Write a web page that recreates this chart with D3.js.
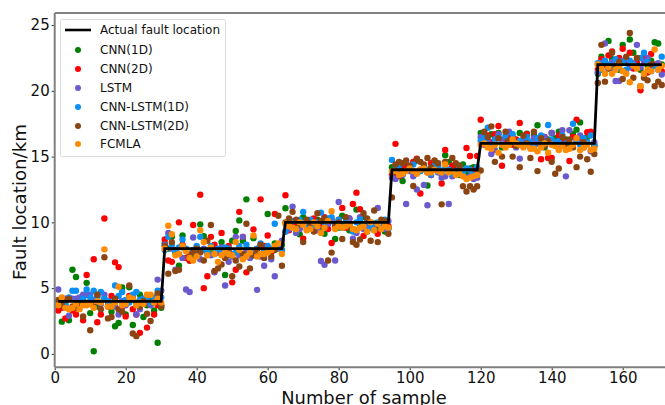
<!DOCTYPE html>
<html><head><meta charset="utf-8">
<script src="https://cdn.jsdelivr.net/npm/d3@7/dist/d3.min.js"></script>
<style>html,body{margin:0;padding:0;background:#fff}svg{display:block;font-family:"DejaVu Sans",sans-serif}</style>
</head><body><div id="chart"></div>
<script>
const xTicks=[0,20,40,60,80,100,120,140,160];
const yTicks=[0,5,10,15,20,25];
const actualLabel="Actual fault location";
const actual=[
4,4,4,4,4,4,4,4,4,4,4,4,4,4,4,4,4,4,4,4,4,4,4,4,4,4,4,4,4,4,
8,8,8,8,8,8,8,8,8,8,8,8,8,8,8,8,8,8,8,8,8,8,8,8,8,8,8,8,8,8,8,8,8,8,
10,10,10,10,10,10,10,10,10,10,10,10,10,10,10,10,10,10,10,10,10,10,10,10,10,10,10,10,10,10,
14,14,14,14,14,14,14,14,14,14,14,14,14,14,14,14,14,14,14,14,14,14,14,14,14,
16,16,16,16,16,16,16,16,16,16,16,16,16,16,16,16,16,16,16,16,16,16,16,16,16,16,16,16,16,16,16,16,16,
22,22,22,22,22,22,22,22,22,22,22,22,22,22,22,22,22,22,22];
const cnn1d=[3.6,2.45,3.8,2.55,6.4,5.85,3.7,3.9,5.4,3.1,
0.2,3.6,3.9,4.2,4.0,3.2,2.1,2.35,5.05,3.0,
5.06,2.2,3.9,4.5,2.8,3.7,4.2,3.3,0.85,3.5,
8.4,8.0,8.9,7.7,6.7,9.0,7.9,7.1,7.3,7.9,
9.85,8.95,7.7,8.0,7.6,7.8,8.5,6.0,7.5,8.6,
9.35,10.15,8.6,11.75,7.4,8.8,7.7,8.2,8.0,10.64,
7.9,8.4,8.3,8.3,11.07,9.5,9.8,9.9,9.1,10.4,
9.7,10.0,9.4,10.2,9.6,9.14,9.9,10.2,8.73,9.6,
10.5,9.8,9.4,9.5,10.97,9.7,10.4,9.3,9.6,9.9,
9.5,9.8,9.3,9.6,14.2,13.5,14.3,13.15,14.4,14.1,
14.5,14.7,13.9,14.2,12.8,13.6,14.0,14.3,13.7,15.1,
14.6,13.9,14.2,13.6,14.4,13.7,14.1,14.2,13.7,16.8,
16.5,15.9,16.7,16.6,16.8,15.7,16.3,16.0,16.4,15.9,
16.8,16.2,16.75,15.8,16.6,17.38,16.1,15.7,16.3,16.8,
16.4,16.9,16.0,16.3,15.8,16.7,17.05,17.6,16.2,16.5,
16.7,15.9,21.3,22.6,22.0,23.8,22.4,21.9,21.6,23.5,
22.2,23.9,22.9,22.1,21.6,22.5,21.9,22.3,23.7,23.6,22.0];
const cnn2d=[3.3,3.5,2.7,4.2,3.3,3.0,3.8,2.55,6.0,3.9,
7.2,2.4,3.0,10.3,3.6,4.4,6.96,6.6,3.6,2.85,
4.4,3.4,3.0,1.6,4.0,2.0,3.8,3.0,3.7,3.7,
8.7,7.1,7.0,7.9,10.0,8.3,7.3,7.1,9.8,8.1,
12.1,5.0,5.9,8.9,8.3,7.7,9.2,7.4,8.2,5.44,
6.4,10.8,8.9,6.2,7.8,9.47,8.0,11.75,8.2,9.0,
7.7,10.64,8.1,7.9,12.06,9.4,9.9,10.0,9.6,8.76,
9.8,10.1,10.3,9.6,9.9,10.4,9.5,8.43,9.7,10.2,
11.1,9.6,10.3,11.4,12.26,11.0,8.97,10.2,9.8,9.6,
9.14,9.9,10.0,9.7,13.6,15.97,13.5,14.1,14.4,13.9,
14.6,14.85,12.2,14.2,13.8,14.5,14.67,14.1,12.95,15.5,
14.0,14.3,13.7,14.2,13.8,15.66,15.05,14.0,15.05,17.8,
16.3,16.6,16.1,16.7,17.33,14.3,16.0,16.5,15.9,16.3,
17.56,16.2,16.7,15.8,16.4,16.0,14.8,16.5,14.9,14.9,
16.1,16.6,16.3,15.9,14.67,16.5,17.8,16.2,16.0,16.85,
16.9,15.8,21.6,22.4,22.0,22.7,23.0,21.8,22.5,23.2,
22.3,22.9,21.7,22.3,20.05,22.6,21.4,22.8,22.0,21.7,21.5];
const lstm=[4.9,3.7,4.2,2.9,4.2,4.2,4.3,4.5,4.5,4.5,
4.1,4.4,3.8,4.5,4.0,3.7,3.6,3.0,4.0,3.7,
4.1,4.3,3.0,3.4,4.2,4.0,3.7,4.0,5.65,4.8,
8.3,9.2,8.0,6.4,7.6,7.3,4.9,4.7,8.85,7.8,
7.2,8.0,7.6,7.5,6.2,7.9,8.1,5.2,7.0,7.4,
8.9,7.5,8.9,7.9,7.3,7.7,4.87,7.4,6.7,7.8,
7.2,5.9,8.0,8.6,9.3,9.5,11.2,9.2,9.5,9.9,
9.45,10.0,9.7,9.4,7.06,6.78,9.9,10.1,7.1,11.55,
9.8,10.0,10.3,8.76,9.2,10.4,9.5,9.7,10.0,9.4,
11.1,9.8,9.5,10.1,13.4,13.3,13.7,13.6,11.4,13.9,
13.5,12.5,14.0,12.85,11.3,13.6,14.3,13.8,13.4,13.5,
11.4,13.5,13.7,14.1,13.6,13.4,13.5,13.3,13.4,16.5,
15.9,16.2,15.2,15.5,16.7,16.3,15.8,16.9,16.1,15.7,
14.85,16.3,16.1,15.7,16.4,16.0,15.8,16.5,16.2,16.8,
16.1,15.6,17.0,13.5,17.0,15.9,16.3,16.6,15.7,16.0,
15.4,16.1,21.4,22.1,23.6,21.7,22.2,20.75,20.75,22.3,
22.4,21.8,22.1,23.5,21.8,22.2,22.5,21.6,21.9,22.1,21.24];
const cnnLstm1d=[3.9,4.1,3.7,4.3,4.8,4.8,3.9,4.2,4.9,4.3,
4.8,4.3,4.7,4.2,4.0,3.9,5.2,4.4,4.7,4.1,
3.9,4.5,4.7,4.1,4.2,4.3,3.9,4.3,4.8,4.3,
7.9,8.9,8.3,7.8,8.1,8.7,8.0,7.6,7.9,8.2,
8.9,7.9,7.7,8.2,7.6,8.0,7.8,8.1,8.0,7.6,
7.7,8.2,7.4,8.3,7.9,7.5,8.0,8.4,7.8,8.2,
8.0,9.9,8.3,7.9,9.3,9.9,10.1,9.5,10.2,10.8,
9.7,10.2,9.8,10.0,10.74,10.0,10.3,10.4,9.9,10.2,
9.6,10.1,9.9,9.3,10.0,10.2,9.7,10.1,9.6,9.9,
10.0,9.8,10.2,9.5,14.75,14.0,14.3,13.7,13.9,14.2,
14.4,13.8,13.9,14.1,14.0,13.7,14.3,14.2,13.8,14.1,
14.0,13.7,13.9,14.3,13.8,14.1,14.0,13.6,14.2,16.2,
16.4,17.2,15.8,16.3,16.5,15.9,16.6,16.1,16.7,15.8,
16.2,15.9,16.5,16.1,15.7,16.4,16.6,16.0,17.4,16.3,
15.9,16.2,16.6,16.0,15.8,17.5,16.2,15.9,16.4,16.1,
16.6,15.8,22.1,21.6,22.3,22.0,21.7,22.4,21.8,22.2,
21.6,22.3,22.0,21.8,22.5,22.9,22.2,21.5,21.9,21.6,22.6];
const cnnLstm2d=[4.1,3.7,4.1,4.2,3.6,3.5,3.7,2.85,3.9,1.8,
3.6,4.5,3.4,7.35,2.7,2.8,4.2,3.4,3.2,3.8,
5.2,1.55,1.35,3.6,4.0,3.05,2.5,3.9,4.6,3.6,
8.2,6.1,8.5,6.3,6.4,8.1,7.9,7.5,7.7,8.0,
7.7,7.1,8.6,9.8,6.3,6.5,6.8,7.3,7.9,5.9,
7.1,6.65,7.6,9.9,6.5,7.5,7.9,8.3,7.3,7.8,
7.4,7.9,10.5,6.7,10.0,10.3,10.8,10.2,9.9,8.5,
10.2,9.9,9.3,10.7,10.1,10.3,7.1,7.7,9.7,10.0,
8.73,10.4,9.8,8.5,8.3,8.7,10.7,10.3,8.6,10.9,
8.5,10.2,10.1,9.14,11.9,14.4,14.6,14.5,14.7,14.3,
12.77,14.8,14.6,14.4,14.9,14.2,14.7,14.5,11.37,14.6,
13.9,14.9,14.5,14.3,12.75,12.35,12.75,12.5,12.75,13.95,
16.9,16.5,17.3,14.6,16.4,15.0,16.9,16.2,15.0,15.8,
14.2,16.6,16.0,14.9,16.9,13.9,16.4,15.8,16.2,14.6,
13.7,14.1,16.5,15.9,16.3,15.7,14.2,15.0,16.1,14.8,
13.85,15.2,20.6,23.5,20.7,21.7,22.9,21.8,22.2,20.9,
22.6,24.4,21.0,22.5,20.35,21.0,20.8,22.0,20.35,20.7,20.45];
const fcmla=[3.7,4.3,3.5,3.4,3.5,3.8,3.4,3.7,3.7,3.8,
3.5,4.0,3.9,7.95,3.6,3.6,3.9,5.1,3.7,3.8,
4.3,4.2,3.7,3.9,3.8,4.5,4.5,3.9,4.2,3.9,
8.0,9.75,9.1,7.5,7.6,8.2,7.8,7.3,7.1,7.4,
9.4,8.5,7.5,8.1,7.6,7.0,7.5,7.7,7.6,7.5,
8.5,7.9,7.2,7.4,7.7,9.0,7.4,7.6,7.6,7.7,
7.9,8.2,8.4,7.6,9.9,9.7,9.6,9.5,10.0,9.8,
9.4,9.5,10.0,9.7,9.2,9.6,10.1,10.84,9.5,9.7,
9.6,9.7,9.9,9.5,9.4,9.6,9.7,9.3,10.0,9.4,
9.9,9.5,9.7,9.6,13.9,13.9,13.6,13.7,13.9,14.1,
13.9,13.7,14.0,14.1,13.8,13.8,14.0,13.9,13.8,14.4,
13.8,13.9,13.6,13.7,13.5,13.3,13.4,13.5,13.6,15.9,
16.0,15.7,15.6,15.9,15.3,15.9,15.7,15.9,16.3,16.0,
15.9,15.7,15.9,15.6,15.6,15.4,15.7,16.0,15.3,15.9,
15.8,15.5,15.8,15.5,15.6,15.9,16.4,15.5,15.7,15.9,
15.5,15.6,22.0,21.7,21.3,21.8,21.3,21.6,21.9,21.5,
21.3,20.65,21.9,21.7,20.35,21.3,21.6,21.5,23.15,21.6,21.9];
const seriesNames=["CNN(1D)","CNN(2D)","LSTM","CNN-LSTM(1D)","CNN-LSTM(2D)","FCMLA"];
const seriesValues=[cnn1d,cnn2d,lstm,cnnLstm1d,cnnLstm2d,fcmla];
const seriesColors=["#008000","#ff0000","#6a5acd","#0a8ff5","#8b4513","#ff8c00"];

const W=665,H=405,L=54.7,R=668,T=13,B=367.3;
const x=d3.scaleLinear().domain([0,173]).range([L,L+173*3.55]);
const y=d3.scaleLinear().domain([-1.02,25.92]).range([B,T]);
const svg=d3.select("#chart").append("svg").attr("width",W).attr("height",H);

seriesValues.forEach((vals,i)=>{
  svg.append("g").selectAll("circle").data(vals).join("circle")
    .attr("cx",(d,k)=>x(k+1)).attr("cy",d=>y(d)).attr("r",3.2).attr("fill",seriesColors[i]);
});
const line=d3.line().x((d,k)=>x(k+1)).y(d=>y(d));
svg.append("path").datum(actual).attr("d",line).attr("fill","none")
  .attr("stroke","#000").attr("stroke-width",2.8).attr("stroke-linejoin","miter");

const gx=svg.append("g").attr("transform",`translate(0,${B})`).call(d3.axisBottom(x).tickValues(xTicks).tickSize(3).tickPadding(2.5));
const gy=svg.append("g").attr("transform",`translate(${L},0)`).call(d3.axisLeft(y).tickValues(yTicks).tickSize(3).tickPadding(2));
[gx,gy].forEach(g=>{
  g.select(".domain").remove();
  g.selectAll("line").attr("stroke","#333").attr("stroke-width",1);
  g.selectAll("text").attr("font-family",'"DejaVu Sans",sans-serif').attr("font-size",15).attr("fill","#111");
});
const spine="#808080";
[[L,T,L,B],[L,B,R,B],[L,T,R,T],[R,T,R,B]].forEach(s=>svg.append("line")
  .attr("x1",s[0]).attr("y1",s[1]).attr("x2",s[2]).attr("y2",s[3]).attr("stroke",spine).attr("stroke-width",2));

svg.append("text").attr("x",364).attr("y",404).attr("text-anchor","middle").attr("font-size",17.9).attr("fill","#111").text("Number of sample");
svg.append("text").attr("transform","translate(26,202) rotate(-90)").attr("text-anchor","middle").attr("font-size",18.2).attr("fill","#111").text("Fault location/km");

const lg=svg.append("g");
lg.append("rect").attr("x",60.5).attr("y",19.5).attr("width",165).attr("height",137).attr("rx",2)
  .attr("fill","#fff").attr("fill-opacity",0.8).attr("stroke","#ddd").attr("stroke-width",1);
const rowY=[30,50,69,88,107,126,144];
lg.append("line").attr("x1",65).attr("x2",91).attr("y1",rowY[0]).attr("y2",rowY[0]).attr("stroke","#000").attr("stroke-width",2.6);
lg.append("text").attr("x",100).attr("y",rowY[0]+4.4).attr("font-size",12).attr("fill","#111").text(actualLabel);
seriesNames.forEach((n,i)=>{
  lg.append("circle").attr("cx",78).attr("cy",rowY[i+1]).attr("r",3).attr("fill",seriesColors[i]);
  lg.append("text").attr("x",100).attr("y",rowY[i+1]+4.4).attr("font-size",12).attr("fill","#111").text(n);
});
</script></body></html>
